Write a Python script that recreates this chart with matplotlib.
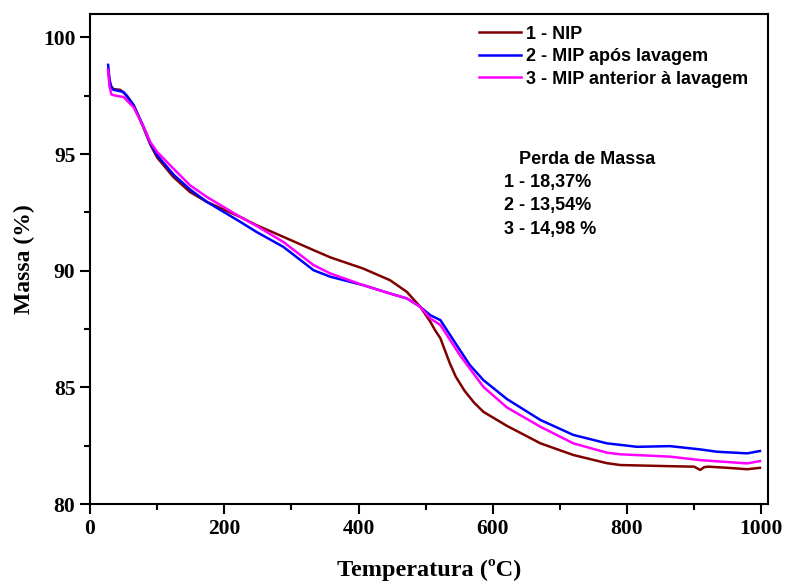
import numpy as np
import matplotlib
matplotlib.use("Agg")
import matplotlib.pyplot as plt
from matplotlib.ticker import MultipleLocator

# curves (temperature in C, mass in %)
t_nip = [27, 30, 35, 45, 55, 65, 80, 90, 100, 124, 149, 174, 199, 224, 248, 288,
         333, 358, 407, 447, 472, 492, 507, 514, 522, 536, 545, 558, 572, 586, 621, 671,
         720, 770, 790, 864, 900, 909, 915, 921, 950, 979, 998]
m_nip = [98.6, 97.95, 97.78, 97.75, 97.5, 97.1, 96.1, 95.4, 94.85, 94.02, 93.37,
         92.95, 92.62, 92.30, 91.95, 91.45, 90.88, 90.57, 90.09, 89.59, 89.09, 88.45,
         87.81, 87.45, 87.10, 86.03, 85.45, 84.85, 84.35, 83.95, 83.35, 82.60, 82.10,
         81.75, 81.67, 81.62, 81.60, 81.46, 81.58, 81.60, 81.55, 81.49, 81.55]

t_mip = [27, 29, 32, 35, 50, 65, 80, 90, 100, 124, 149, 174, 199, 224, 248, 288,
         333, 358, 407, 447, 472, 492, 507, 522, 534, 551, 566, 586, 621, 671, 720,
         770, 815, 864, 909, 934, 979, 998]
m_mip = [98.82, 98.2, 97.85, 97.75, 97.66, 97.09, 96.16, 95.45, 94.95, 94.13,
         93.48, 92.95, 92.52, 92.09, 91.66, 91.02, 90.02, 89.74, 89.38, 89.02, 88.81,
         88.45, 88.09, 87.88, 87.35, 86.6, 85.95, 85.31, 84.5, 83.60, 82.96, 82.60,
         82.45, 82.48, 82.34, 82.24, 82.17, 82.27]

t_ant = [27, 29, 32, 35, 50, 65, 80, 90, 100, 124, 149, 174, 199, 224, 248, 288,
         333, 358, 407, 447, 472, 492, 507, 522, 551, 586, 621, 671, 720, 770,
         790, 864, 909, 979, 998]
m_ant = [98.6, 97.9, 97.55, 97.52, 97.44, 97.0, 96.15, 95.5, 95.09, 94.38, 93.66,
         93.16, 92.73, 92.30, 91.92, 91.23, 90.24, 89.88, 89.38, 89.02, 88.81, 88.45,
         87.95, 87.67, 86.38, 85.02, 84.14, 83.31, 82.60, 82.20, 82.13, 82.03,
         81.88, 81.74, 81.84]

labels = ["1 - NIP", "2 - MIP após lavagem", "3 - MIP anterior à lavagem"]
perdas = ["1 - 18,37%", "2 - 13,54%", "3 - 14,98 %"]

serif = "Liberation Serif"
sans = "Liberation Sans"

fig = plt.figure(figsize=(7.86, 5.83), dpi=100)
ax = fig.add_axes([90 / 786, 79 / 583, 678 / 786, 490 / 583])

ax.plot(t_nip, m_nip, color="#800000", lw=1.8, label=labels[0])
ax.plot(t_mip, m_mip, color="#0000FF", lw=1.8, label=labels[1])
ax.plot(t_ant, m_ant, color="#FF00FF", lw=1.8, label=labels[2])

ax.set_xlim(0, 1010)
ax.set_ylim(80, 101)
ax.xaxis.set_major_locator(MultipleLocator(200))
ax.xaxis.set_minor_locator(MultipleLocator(100))
ax.yaxis.set_major_locator(MultipleLocator(5))
ax.yaxis.set_minor_locator(MultipleLocator(2.5))
ax.tick_params(which="major", direction="out", length=7, width=1.5)
ax.tick_params(which="minor", direction="out", length=4, width=1.5)
for s in ax.spines.values():
    s.set_linewidth(1.5)
for lab in ax.get_xticklabels() + ax.get_yticklabels():
    lab.set_fontfamily(serif)
    lab.set_fontweight("bold")
    lab.set_fontsize(15.5)

ax.set_xlabel("Temperatura (ºC)", fontfamily=serif, fontweight="bold", fontsize=17.5, labelpad=15)
ax.set_ylabel("Massa (%)", fontfamily=serif, fontweight="bold", fontsize=17, labelpad=6)

ax.legend(loc="upper left", bbox_to_anchor=(0.574, 0.976), frameon=False,
          borderpad=0, borderaxespad=0, handlelength=2.3, handletextpad=0.3,
          labelspacing=0.3, prop={"family": sans, "weight": "bold", "size": 13})

ax.text(0.633, 0.704, "Perda de Massa", transform=ax.transAxes, fontfamily=sans,
        fontweight="bold", fontsize=13, va="center")
for i, p in enumerate(perdas):
    ax.text(0.61, 0.657 - i * 0.048, p, transform=ax.transAxes, fontfamily=sans,
            fontweight="bold", fontsize=13, va="center")

fig.savefig("out.png", dpi=100)
